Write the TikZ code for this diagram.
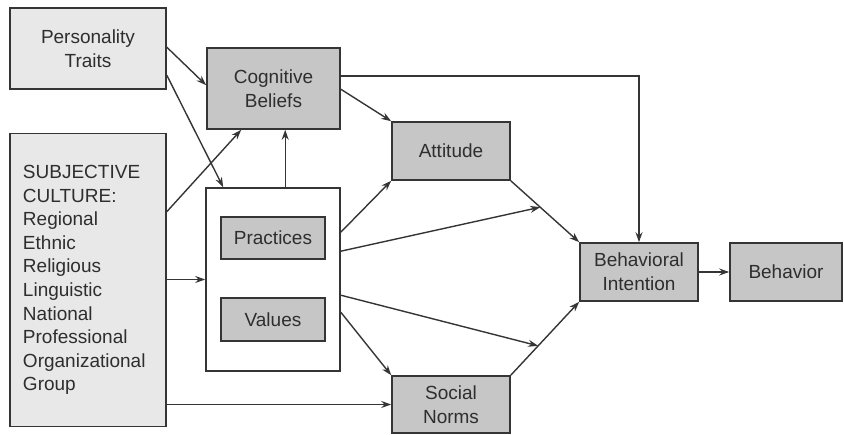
\documentclass[tikz,border=0pt]{standalone}
\usepackage{fontspec}
\setmainfont{Liberation Sans}
\usetikzlibrary{arrows.meta,calc}
\definecolor{lightbox}{HTML}{E8E8E8}
\definecolor{darkbox}{HTML}{C6C6C6}
\definecolor{edge}{HTML}{353535}
\definecolor{ink}{HTML}{2E2E2E}
\tikzset{
  box/.style={draw=edge, line width=1.6pt, rectangle, inner sep=0pt, align=center,
    text=ink, font=\fontsize{19}{23.6}\selectfont},
  lightb/.style={box, fill=lightbox},
  darkb/.style={box, fill=darkbox},
  whiteb/.style={box, fill=white},
  conn/.style={draw=edge, line width=1.4pt, -{Stealth[length=10pt,width=7pt]}},
}
\begin{document}
\begin{tikzpicture}[x=1pt,y=-1pt]
\useasboundingbox (0,0) rectangle (844,435);
\node[lightb, minimum width=156pt, minimum height=81pt] (PT) at (88,48.5) {Personality\\Traits};
\node[darkb, minimum width=133pt, minimum height=81pt] (CB) at (273.5,88.5) {Cognitive\\Beliefs};
\node[lightb, minimum width=156pt, minimum height=293pt, text width=130pt, align=left] (SC) at (88,280)
  {SUBJECTIVE\\CULTURE:\\Regional\\Ethnic\\Religious\\Linguistic\\National\\Professional\\Organizational\\Group};
\node[whiteb, minimum width=134pt, minimum height=183pt] (Cont) at (273,279.5) {};
\node[darkb, minimum width=104pt, minimum height=42pt] (Pr) at (273,238) {Practices};
\node[darkb, minimum width=104pt, minimum height=43pt] (Va) at (273,319.5) {Values};
\node[darkb, minimum width=118pt, minimum height=58pt] (At) at (451,151) {Attitude};
\node[darkb, minimum width=118pt, minimum height=58pt] (BI) at (639,272) {Behavioral\\Intention};
\node[darkb, minimum width=112pt, minimum height=58pt] (Be) at (786,272) {Behavior};
\node[darkb, minimum width=118pt, minimum height=57pt] (SN) at (451,404.5) {Social\\Norms};

\coordinate (m1) at ($(At.south east)!0.43!(BI.north west)$);
\coordinate (m2) at ($(SN.north east)!0.40!(BI.south west)$);

\draw[conn] ($(PT.north east)+(0,40)$) -- ($(CB.north west)+(0,38)$);
\draw[conn] ($(PT.north east)+(0,68)$) -- ($(Cont.north west)+(18,0)$);
\draw[conn] ($(SC.north east)+(0,79)$) -- ($(CB.south west)+(35,0)$);
\draw[conn] ($(Cont.north west)+(80,0)$) -- ($(CB.south west)+(79,0)$);
\draw[conn] (SC.east |- Cont.west) -- (Cont.west);
\draw[conn] (SC.east |- SN.west) -- (SN.west);
\draw[conn] ($(CB.north east)+(0,29)$) -| (BI.north);
\draw[conn] ($(CB.north east)+(0,42)$) -- (At.north west);
\draw[conn] ($(Cont.north east)+(0,45)$) -- (At.south west);
\draw[conn] ($(Cont.north east)+(0,64)$) -- (m1);
\draw[conn] ($(Cont.north east)+(0,108)$) -- (m2);
\draw[conn] ($(Cont.north east)+(0,125)$) -- (SN.north west);
\draw[conn] (At.south east) -- (BI.north west);
\draw[conn] (SN.north east) -- (BI.south west);
\draw[conn] (BI.east) -- (Be.west);
\end{tikzpicture}
\end{document}
